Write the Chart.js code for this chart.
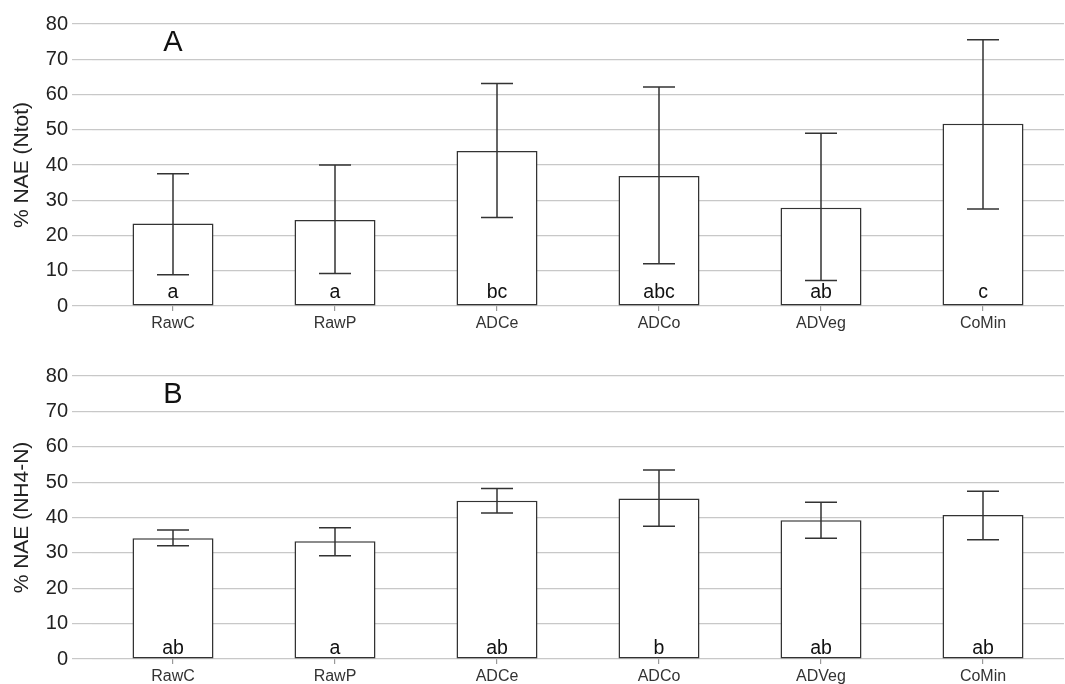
<!DOCTYPE html>
<html>
<head>
<meta charset="utf-8">
<script src="https://cdn.jsdelivr.net/npm/chart.js@4"></script>
<style>
  html, body { margin: 0; padding: 0; background: #fff; }
  .panel { position: absolute; left: 0; width: 1065px; height: 342px; }
  #panelA { top: 0; }
  #panelB { top: 342px; }
</style>
</head>
<body>
<div class="panel" id="panelA"><canvas id="chartA"></canvas></div>
<div class="panel" id="panelB"><canvas id="chartB"></canvas></div>
<script>
const categories = ['RawC', 'RawP', 'ADCe', 'ADCo', 'ADVeg', 'CoMin'];

// panel A: % NAE (Ntot)
const ntotMean = [23.4, 24.4, 44.0, 36.9, 27.9, 51.7];
const ntotLow = [8.9, 9.2, 25.1, 12.0, 7.2, 27.5];
const ntotHigh = [37.5, 40.0, 63.1, 62.1, 49.0, 75.5];
const ntotLetters = ['a', 'a', 'bc', 'abc', 'ab', 'c'];

// panel B: % NAE (NH4-N)
const nh4Mean = [34.1, 33.3, 44.7, 45.4, 39.2, 40.7];
const nh4Low = [32.0, 29.2, 41.3, 37.5, 34.1, 33.7];
const nh4High = [36.5, 37.1, 48.2, 53.4, 44.3, 47.4];
const nh4Letters = ['ab', 'a', 'ab', 'b', 'ab', 'ab'];

const yTickValues = [0, 10, 20, 30, 40, 50, 60, 70, 80];

Chart.defaults.font.family = '"Liberation Sans", Arial, sans-serif';

// error bars, group letters and the panel tag, drawn over the bars
const annotations = {
  id: 'annotations',
  afterDatasetsDraw(chart, args, opts) {
    const ctx = chart.ctx;
    const y = chart.scales.y;
    const bars = chart.getDatasetMeta(0).data;
    ctx.save();
    ctx.strokeStyle = '#333';
    ctx.lineWidth = 1.5;
    bars.forEach((bar, i) => {
      const yl = y.getPixelForValue(opts.low[i]);
      const yh = y.getPixelForValue(opts.high[i]);
      ctx.beginPath();
      ctx.moveTo(bar.x, yl);
      ctx.lineTo(bar.x, yh);
      ctx.moveTo(bar.x - 16, yl);
      ctx.lineTo(bar.x + 16, yl);
      ctx.moveTo(bar.x - 16, yh);
      ctx.lineTo(bar.x + 16, yh);
      ctx.stroke();
    });
    ctx.fillStyle = '#111';
    ctx.font = '19.5px "Liberation Sans", Arial, sans-serif';
    ctx.textAlign = 'center';
    ctx.textBaseline = 'alphabetic';
    bars.forEach((bar, i) => {
      ctx.fillText(opts.letters[i], bar.x, y.getPixelForValue(0) - opts.letterLift);
    });
    ctx.font = '29px "Liberation Sans", Arial, sans-serif';
    ctx.textBaseline = 'middle';
    ctx.fillText(opts.tag, bars[0].x, y.getPixelForValue(74.7));
    ctx.restore();
  }
};

function makeChart(id, mean, low, high, letters, tag, yTitle, padTop, xHeight, lift) {
  return new Chart(document.getElementById(id), {
    type: 'bar',
    data: {
      labels: categories,
      datasets: [{
        data: mean,
        backgroundColor: '#fff',
        borderColor: '#333',
        borderWidth: 1.5,
        borderSkipped: false,
        barPercentage: 0.5,
        categoryPercentage: 1.0
      }]
    },
    options: {
      responsive: true,
      maintainAspectRatio: false,
      animation: false,
      layout: { padding: { top: padTop, right: 1, bottom: 0, left: 0 } },
      plugins: {
        legend: { display: false },
        tooltip: { enabled: false },
        annotations: { low: low, high: high, letters: letters, tag: tag, letterLift: lift }
      },
      scales: {
        x: {
          ticks: { color: '#333', font: { size: 16 }, padding: 3 },
          grid: { drawOnChartArea: false, offset: false, tickLength: 5, color: '#999', lineWidth: 1.2 },
          border: { display: false },
          afterFit(s) { s.height = xHeight; }
        },
        y: {
          min: 0,
          max: 80,
          afterBuildTicks(s) { s.ticks = yTickValues.map(v => ({ value: v })); },
          ticks: { color: '#222', font: { size: 20 }, padding: 4 },
          grid: { color: '#c8c8c8', lineWidth: 1.2, tickLength: 20 },
          border: { display: false },
          title: { display: true, text: yTitle, color: '#222', font: { size: 21 }, padding: { top: 10, bottom: 0 } },
          afterFit(s) { s.width = 92; }
        }
      }
    },
    plugins: [annotations]
  });
}

makeChart('chartA', ntotMean, ntotLow, ntotHigh, ntotLetters, 'A', '% NAE (Ntot)', 24, 36, 8);
makeChart('chartB', nh4Mean, nh4Low, nh4High, nh4Letters, 'B', '% NAE (NH4-N)', 34, 25, 5);
</script>
</body>
</html>
